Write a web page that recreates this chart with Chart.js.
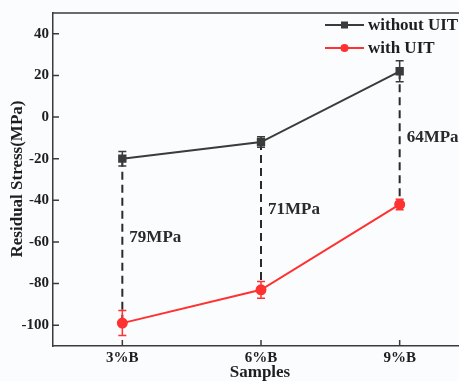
<!DOCTYPE html>
<html>
<head>
<meta charset="utf-8">
<script src="https://cdn.jsdelivr.net/npm/chart.js@4.4.1/dist/chart.umd.min.js"></script>
<style>
  html, body { margin: 0; padding: 0; background: #fbfcfe; overflow: hidden; }
  #wrap { width: 480px; height: 381px; }
</style>
</head>
<body>
<div id="wrap"><canvas id="stress"></canvas></div>
<script>
// residual stress per sample, MPa
const samples = ['3%B', '6%B', '9%B'];
const withoutUIT = [-20, -12, 22];
const withoutUITErr = [3.5, 2.5, 5];
const withUIT = [-99, -83, -42];
const withUITErr = [6, 4, 2.5];
const yTicks = [-100, -80, -60, -40, -20, 0, 20, 40];
// where the difference labels sit (MPa)
const diffLabelAt = [-58, -44.5, -10];

const DARK = '#3b3b3b';
const RED = '#ff3131';
const TEXT = '#1e1e1e';
const SERIF = "'Liberation Serif', 'Times New Roman', serif";

// error bars for every dataset
const errorBars = {
  id: 'errorBars',
  afterDatasetsDraw(chart) {
    const { ctx, scales: { y } } = chart;
    chart.data.datasets.forEach((ds, di) => {
      const meta = chart.getDatasetMeta(di);
      ctx.save();
      ctx.strokeStyle = ds.borderColor;
      ctx.lineWidth = 1.5;
      meta.data.forEach((pt, i) => {
        const v = ds.data[i], e = ds.errors[i];
        const top = y.getPixelForValue(v + e), bot = y.getPixelForValue(v - e);
        ctx.beginPath();
        ctx.moveTo(pt.x, top); ctx.lineTo(pt.x, bot);
        ctx.moveTo(pt.x - 4, top); ctx.lineTo(pt.x + 4, top);
        ctx.moveTo(pt.x - 4, bot); ctx.lineTo(pt.x + 4, bot);
        ctx.stroke();
      });
      ctx.restore();
    });
  }
};

// dashed drop lines between the two series plus the difference labels
const dropLines = {
  id: 'dropLines',
  beforeDatasetsDraw(chart) {
    const { ctx, scales: { x, y } } = chart;
    ctx.save();
    ctx.strokeStyle = '#2a2a2a';
    ctx.lineWidth = 2;
    ctx.setLineDash([8, 5]);
    samples.forEach((s, i) => {
      const px = x.getPixelForValue(i);
      ctx.beginPath();
      ctx.moveTo(px, y.getPixelForValue(withoutUIT[i]));
      ctx.lineTo(px, y.getPixelForValue(withUIT[i]));
      ctx.stroke();
    });
    ctx.setLineDash([]);
    ctx.fillStyle = '#2a2a2a';
    ctx.font = 'bold 17px ' + SERIF;
    ctx.textBaseline = 'middle';
    samples.forEach((s, i) => {
      const diff = withoutUIT[i] - withUIT[i];
      ctx.fillText(diff + 'MPa', x.getPixelForValue(i) + 7, y.getPixelForValue(diffLabelAt[i]));
    });
    ctx.restore();
  }
};

// frame, inward tick marks, axis titles and the legend in the upper right
const frameAndLegend = {
  id: 'frameAndLegend',
  afterDraw(chart) {
    const { ctx, chartArea: a, scales: { x, y } } = chart;
    ctx.save();
    ctx.strokeStyle = DARK;
    ctx.lineWidth = 1.5;
    ctx.beginPath();
    ctx.moveTo(a.left, a.top); ctx.lineTo(a.right, a.top); ctx.lineTo(a.right, a.bottom);
    y.ticks.forEach(t => {
      const py = y.getPixelForValue(t.value);
      ctx.moveTo(a.left, py); ctx.lineTo(a.left + 6, py);
    });
    samples.forEach((s, i) => {
      const px = x.getPixelForValue(i);
      ctx.moveTo(px, a.bottom); ctx.lineTo(px, a.bottom - 6);
    });
    ctx.stroke();

    // axis titles
    ctx.fillStyle = TEXT;
    ctx.font = 'bold 17px ' + SERIF;
    ctx.textAlign = 'center';
    ctx.textBaseline = 'middle';
    ctx.fillText('Samples', 260, 373);
    ctx.save();
    ctx.translate(18, 179);
    ctx.rotate(-Math.PI / 2);
    ctx.fillText('Residual Stress(MPa)', 0, 0);
    ctx.restore();

    const items = [
      { text: 'without UIT', color: DARK, square: true, y: 25 },
      { text: 'with UIT', color: RED, square: false, y: 48 }
    ];
    ctx.textAlign = 'left';
    items.forEach(it => {
      ctx.strokeStyle = it.color;
      ctx.fillStyle = it.color;
      ctx.lineWidth = 2;
      ctx.beginPath();
      ctx.moveTo(325, it.y); ctx.lineTo(364, it.y);
      ctx.stroke();
      ctx.beginPath();
      if (it.square) ctx.rect(341, it.y - 3.5, 7, 7);
      else ctx.arc(344.5, it.y, 4, 0, Math.PI * 2);
      ctx.fill();
      ctx.fillStyle = TEXT;
      ctx.fillText(it.text, 368, it.y + 1);
    });
    ctx.restore();
  }
};

new Chart(document.getElementById('stress'), {
  type: 'line',
  data: {
    labels: samples,
    datasets: [
      {
        label: 'without UIT',
        data: withoutUIT,
        errors: withoutUITErr,
        borderColor: DARK,
        backgroundColor: DARK,
        borderWidth: 2,
        pointStyle: 'rect',
        pointRadius: 4.5,
        pointHoverRadius: 4.5
      },
      {
        label: 'with UIT',
        data: withUIT,
        errors: withUITErr,
        borderColor: RED,
        backgroundColor: RED,
        borderWidth: 2,
        pointStyle: 'circle',
        pointRadius: 4.5,
        pointHoverRadius: 4.5
      }
    ]
  },
  options: {
    responsive: true,
    maintainAspectRatio: false,
    animation: false,
    layout: { padding: { top: 11, right: 11, left: 0, bottom: 0 } },
    plugins: { legend: { display: false }, tooltip: { enabled: false } },
    scales: {
      x: {
        offset: true,
        afterFit: s => { s.height = 35; },
        grid: { display: false, drawTicks: false },
        border: { color: DARK, width: 1.5 },
        ticks: { color: TEXT, padding: 3, font: { family: SERIF, size: 15, weight: 'bold' } }
      },
      y: {
        min: -110,
        max: 50,
        afterFit: s => { s.width = 53; },
        afterBuildTicks: s => { s.ticks = yTicks.map(v => ({ value: v })); },
        grid: { display: false, drawTicks: false },
        border: { color: DARK, width: 1.5 },
        ticks: { color: TEXT, padding: 4, font: { family: SERIF, size: 15, weight: 'bold' } }
      }
    }
  },
  plugins: [dropLines, errorBars, frameAndLegend]
});
</script>
</body>
</html>
